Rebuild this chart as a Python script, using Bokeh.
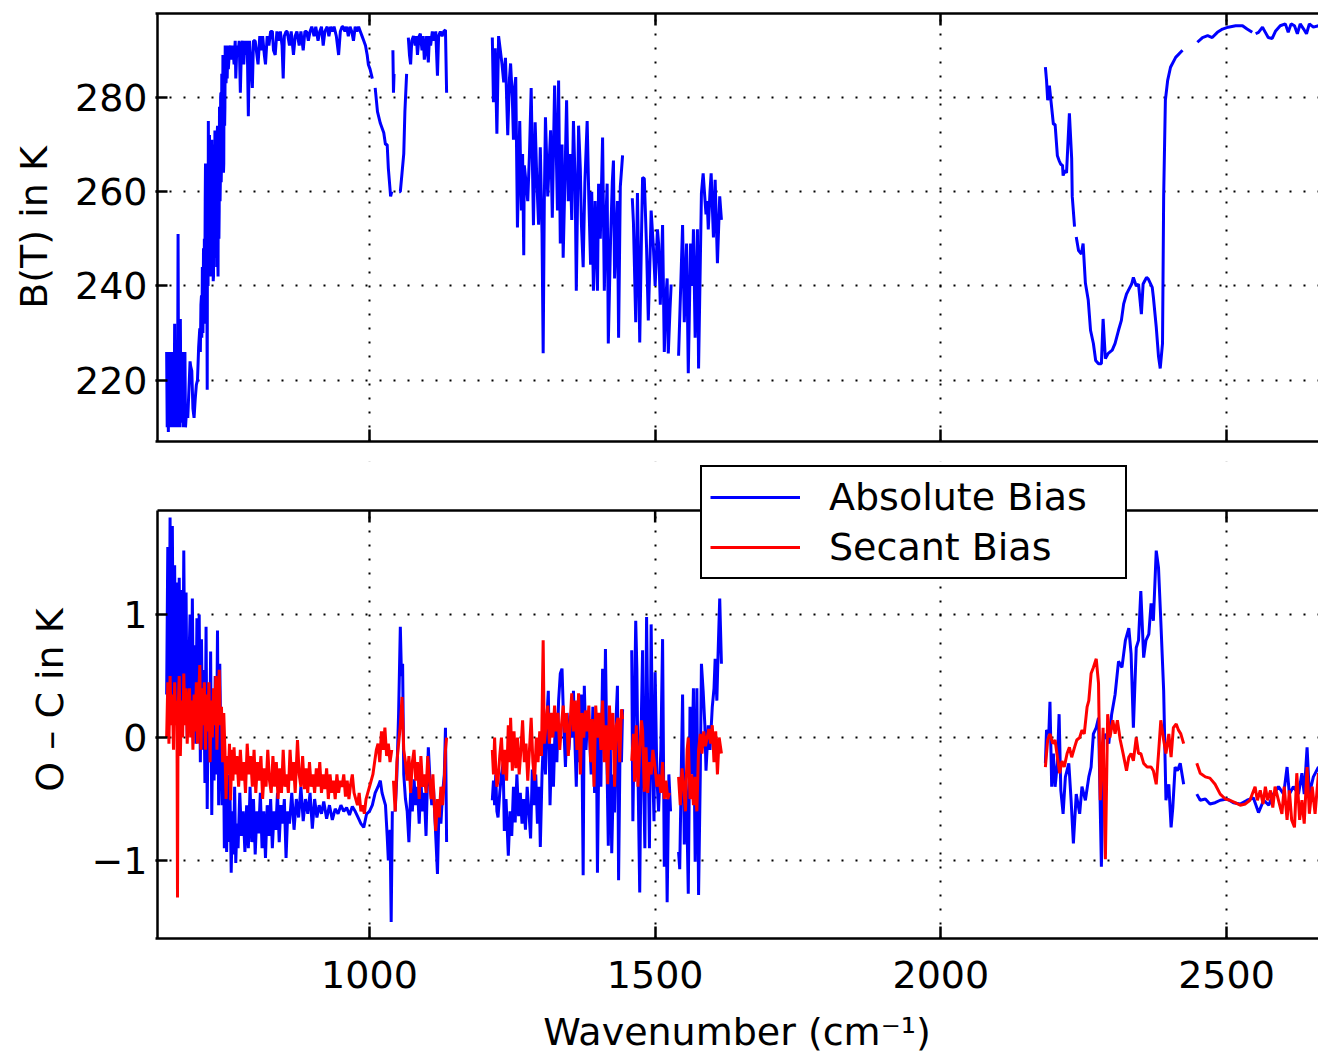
from bokeh.plotting import figure
from bokeh.models import Range1d, FixedTicker, LinearAxis, Legend, LegendItem, BoxAnnotation
from bokeh.layouts import column
from bokeh.embed import file_html
from bokeh.resources import INLINE

GAP = None  # marks a break in a spectrum

# ---------------- axes / ticks ----------------
X_LIMITS = (629, 2661)
X_TICKS = [1000, 1500, 2000, 2500]
BT_LIMITS = (207.0, 297.8)
BT_TICKS = [220, 240, 260, 280]
OC_LIMITS = (-1.634, 1.846)
OC_TICKS = [-1, 0, 1]
OC_TICK_LABELS = {-1: "\u22121", 0: "0", 1: "1"}
LEGEND_LABELS = ["Absolute Bias", "Secant Bias"]

# ---------------- top panel: brightness temperature B(T) in K (wavenumber, K) ----------------
bt_band1 = [
    (645, 226), (646, 210), (647, 225), (648, 209), (649, 226), (650, 211), (651, 224), (652, 210),
    (653, 226), (654, 212), (655, 225), (656, 210), (657, 226), (658, 211), (659, 232), (660, 210),
    (661, 226), (662, 212), (663, 224), (664, 210), (665, 251), (666, 212), (667, 226), (668, 210),
    (669, 233), (670, 212), (671, 226), (672, 211), (673, 225), (674, 210), (675, 226), (676, 212),
    (677, 226), (678, 210), (680, 214), (682, 212), (684, 218), (686, 224), (687, 223), (689, 222),
    (691, 214), (693, 212), (695, 216), (697, 219), (699, 220), (701, 227), (703, 231), (704, 226),
    (705, 236), (706, 238), (706.5, 229), (707, 233), (707.5, 244), (708, 241), (708.5, 230),
    (709, 236), (709.5, 248), (710, 240), (710.5, 232), (711, 250), (711.5, 238), (712, 245),
    (712.5, 258), (713, 266), (713.5, 236), (714, 240), (714.5, 262), (715, 253), (716, 218),
    (716.5, 258), (717, 262), (717.5, 240), (718, 275), (718.5, 250), (719, 245), (719.5, 270),
    (720, 272), (720.5, 246), (721, 243), (721.5, 266), (722, 268), (722.5, 242), (723, 247),
    (723.5, 270), (724, 271), (724.5, 243), (725, 244), (725.5, 268), (726, 265), (726.5, 241),
    (727, 242), (727.5, 266), (728, 270), (728.5, 246), (729, 255), (729.5, 273), (730, 272),
    (730.5, 246), (731, 250), (731.5, 270), (732, 268), (732.5, 244), (733, 248), (733.5, 272),
    (734, 274), (734.5, 246), (735, 242), (735.5, 268), (736, 270), (736.5, 250), (737, 256),
    (737.5, 278), (738, 276), (738.5, 258), (739, 262), (739.5, 280), (740, 281), (740.5, 262),
    (741, 266), (741.5, 285), (742, 284), (742.5, 268), (743, 272), (743.5, 289), (744, 288),
    (744.5, 264), (745, 266), (745.5, 286), (746, 284), (746.5, 274), (747, 278), (747.5, 291),
    (748, 290), (749, 283), (750, 289), (751, 284), (752, 291), (753, 286),
    (755, 290), (757, 291), (759, 288), (761, 291), (763, 287), (765, 292), (766, 284), (768, 291),
    (770, 289), (772, 292), (774, 281), (776, 291), (778, 292), (780, 287), (782, 292), (784, 289),
    (786, 292), (788, 276), (790, 292), (792, 288), (795, 282), (797, 292), (800, 292), (803, 289),
    (805, 287), (808, 293), (810, 290), (813, 293), (816, 289), (818, 287), (821, 293), (824, 291),
    (827, 294), (830, 294), (832, 290), (835, 289), (838, 294), (841, 292), (844, 294), (847, 291),
    (849, 284), (851, 293), (854, 294), (856, 294), (860, 291), (863, 294), (867, 289), (870, 293),
    (873, 294), (877, 291), (880, 294), (884, 290), (887, 294), (890, 294), (893, 292), (896, 294),
    (899, 295), (903, 293), (906, 295), (910, 292), (913, 294), (916, 295), (919, 291), (922, 294),
    (926, 295), (929, 293), (932, 295), (935, 294), (938, 295), (942, 293), (946, 289), (949, 294),
    (952, 295), (954, 295), (957, 294), (960, 295), (963, 293), (966, 295), (969, 294), (972, 292),
    (975, 295), (978, 294), (981, 295), (984, 294), (987, 293), (990, 292), (993, 291), (996, 289),
    (998, 287), (1001, 286), (1005, 284), GAP,
    (1010, 282), (1014, 277), (1019, 274.5), (1025, 272.5), (1028, 270), (1031, 270), (1033, 265),
    (1035, 262), (1037, 259), (1039, 260), GAP,
    (1041, 290), (1042, 281), (1043, 285), GAP,
    (1052, 260), (1054, 260), (1057, 264), (1060, 268), (1062, 277), (1065, 285), GAP,
    (1068, 292.7), (1070, 289), (1072, 287), (1074, 292), (1077, 293), (1080, 291), (1082, 293),
    (1084, 289), (1087, 293), (1089, 293.5), (1092, 290), (1094, 293), (1096, 288), (1098, 290),
    (1100, 293), (1103, 287.4), (1105, 293), (1107, 291), (1110, 294), (1113, 292), (1116, 294),
    (1119, 284.6), (1121, 293), (1124, 294), (1127, 293), (1130, 294), (1133, 294.3), (1135, 281),
]

bt_band2 = [
    (1215, 292.7), (1217, 279), (1220, 290.4), (1223, 272.3), (1226, 293), (1229, 290), (1232, 287),
    (1235, 283.2), (1238, 288.4), (1242, 272), (1245, 284), (1247, 287.2), (1250, 280), (1252, 271),
    (1254, 282), (1256, 284.3), (1259, 252.4), (1263, 275), (1266, 256), (1268, 268), (1270, 246.5),
    (1271, 265.6), (1274, 262), (1277, 258), (1280, 268), (1283, 282), (1287, 252.9), (1290, 274.7),
    (1293, 262), (1296, 253), (1299, 269.4), (1302, 251.2), (1304, 225.7), (1306, 258), (1308, 275.8),
    (1312, 259), (1317, 273), (1320, 254.5), (1324, 282.5), (1327, 268), (1329, 256), (1331, 283.6),
    (1334, 249), (1337, 270), (1339, 246), (1342, 262), (1345, 279.4), (1348, 258), (1351, 268),
    (1354, 254), (1357, 275), (1360, 262), (1362, 239), (1366, 274), (1369, 265), (1371, 253),
    (1374, 244), (1377, 262), (1381, 275), (1384, 258), (1387, 244.5), (1389, 260), (1392, 239),
    (1395, 258), (1399, 239), (1401, 261.7), (1404, 250), (1408, 271.5), (1411, 239), (1414, 255),
    (1416, 261.7), (1418, 227.8), (1422, 250), (1425, 262), (1427, 266.6), (1429, 241.6), (1432, 252),
    (1434, 258), (1436, 229), (1439, 261), (1443, 267.7), GAP,
    (1460, 258.6), (1462, 253.4), (1466, 232.3), (1469, 259.7), (1471, 245), (1473, 228), (1476, 250),
    (1478, 263), (1481, 262.8), (1485, 248), (1488, 232.7), (1491, 246), (1493, 256), (1497, 248),
    (1500, 240), (1504, 252), (1506, 249), (1509, 236), (1513, 252.9), (1516, 226), (1519, 238),
    (1521, 241.6), (1523, 225.7), (1526, 235), (1528, 240.3), GAP,
    (1541, 225.2), (1544, 237), (1548, 252.9), (1551, 232.3), (1555, 249), (1558, 221.5), (1562, 249),
    (1565, 240), (1567, 252), (1570, 229), (1574, 252), (1576, 222.5), (1581, 259.7), (1584, 263.9),
    (1589, 255.2), (1591, 258), (1593, 252), (1596, 260), (1598, 263.9), (1602, 250.3), (1605, 262.5),
    (1609, 244.8), (1613, 259), (1616, 254),
]

bt_band3 = [
    (2183, 286.4), (2185, 283.6), (2187, 279.4), (2190, 282.5), (2193, 279), (2197, 274.3),
    (2200, 274.3), (2204, 267.6), (2207, 266.6), (2210, 265.8), (2213, 265.6), (2214, 263.4),
    (2217, 264.5), (2220, 264), (2225, 276.6), (2229, 267), (2230, 259), (2234, 252.6), GAP,
    (2237, 250.4), (2241, 247.5), (2246, 246.8), (2249, 249), (2253, 240.6), (2258, 237),
    (2262, 230.6), (2267, 227.8), (2271, 224.2), (2276, 223.5), (2281, 223.5), (2284, 233),
    (2288, 224.6), (2293, 225.7), (2300, 226.4), (2305, 227.8), (2311, 230.6), (2316, 232.7),
    (2320, 236.2), (2325, 238.3), (2328, 239), (2334, 240.4), (2337, 241.8), (2342, 240),
    (2346, 240.4), (2351, 234), (2354, 240.4), (2360, 241.8), (2363, 241.5), (2370, 239.7),
    (2372, 237.6), (2377, 231.3), (2381, 225), (2384, 222.5), (2388, 227.8), (2390, 259),
    (2393, 279.4), (2397, 283.6), (2402, 286.4), (2411, 288.5), (2423, 290), GAP,
    (2449, 291.7), (2458, 292.7), (2467, 293.1), (2475, 292.7), (2484, 293.8), (2493, 294.5),
    (2503, 294.9), (2516, 295.2), (2528, 295.2), (2536, 294.5), (2545, 293.8), GAP,
    (2551, 293.5), (2556, 293.8), (2563, 294.9), (2568, 293.8), (2573, 292.7), (2580, 292.5),
    (2586, 294.1), (2594, 295.2), (2603, 295.6), (2608, 293.8), (2613, 295.6), (2619, 295.2),
    (2624, 293.5), (2629, 295.6), (2635, 294.5), (2640, 293.5), (2645, 295.6), (2652, 294.9),
    (2661, 295.2), (2665, 294.6),
]

# ---------------- bottom panel: O - C in K, absolute bias (blue) ----------------
abs_bias = [
    (645, 0.35), (647, 1.55), (649, 0.1), (651, 1.79), (653, 0.3), (655, 1.72), (657, 0.15), (659, 1.4),
    (661, 0.2), (663, 1.26), (665, 0.05), (667, 1.3), (669, 0.25), (671, 1.2), (673, 0.1), (675, 1.52),
    (677, 0.3), (679, 1.18), (681, 0.0), (684, 0.6), (686, 1.0), (688, 0.05), (690, 1.13), (692, 0.1),
    (694, 0.75), (696, -0.05), (698, 0.97), (700, 0.1), (702, 1.0), (704, -0.2), (706, 0.8), (708, -0.1),
    (710, 0.55), (712, -0.37), (714, 0.9), (716, -0.58), (718, 0.4), (720, -0.2), (722, 0.7), (724, -0.63),
    (726, 0.3), (728, -0.35), (730, 0.5), (732, -0.3), (734, 0.87), (736, -0.55), (738, 0.6), (740, -0.1),
    (742, -0.55), (744, 0.2), (746, -0.9), (748, -0.4), (750, -0.93), (752, -0.3), (754, -0.85),
    (756, -0.5), (758, -1.1), (760, -0.6), (762, -0.95), (764, -0.4), (766, -1.02), (768, -0.7),
    (770, -0.9), (773, -0.45), (776, -0.8), (779, -0.6), (782, -0.93), (785, -0.55), (788, -0.9),
    (791, -0.4), (794, -0.85), (797, -0.5), (800, -0.95), (803, -0.6), (806, -0.78), (809, -0.45),
    (812, -0.9), (815, -0.6), (818, -0.98), (821, -0.55), (824, -0.8), (827, -0.5), (830, -0.9),
    (833, -0.6), (836, -0.75), (839, -0.45), (842, -0.85), (845, -0.55), (848, -0.7), (851, -0.5),
    (854, -0.98), (857, -0.6), (860, -0.7), (864, -0.45), (868, -0.75), (872, -0.5), (876, -0.65),
    (880, -0.4), (884, -0.68), (888, -0.5), (892, -0.62), (896, -0.45), (900, -0.74), (904, -0.5),
    (908, -0.65), (912, -0.55), (916, -0.62), (920, -0.52), (925, -0.66), (930, -0.55), (935, -0.67),
    (940, -0.58), (945, -0.62), (950, -0.55), (955, -0.6), (960, -0.57), (965, -0.63), (970, -0.56),
    (975, -0.6), (980, -0.65), (985, -0.7), (990, -0.73), (995, -0.62), (1000, -0.6), (1005, -0.55),
    (1010, -0.45), (1015, -0.4), (1019, -0.35), (1022, -0.45), (1025, -0.5), (1028, -0.55),
    (1031, -0.8), (1033, -1.0), (1036, -0.75), (1038, -1.5), (1040, -0.6), GAP,
    (1045, -0.6), (1048, -0.3), (1051, 0.2), (1054, 0.9), (1056, 0.5), (1058, 0.6), (1060, -0.3),
    (1063, -0.5), (1066, -0.6), (1069, -0.85), (1072, -0.45), (1075, -0.6), (1078, -0.34),
    (1081, -0.55), (1084, -0.4), (1087, -0.7), (1090, -0.35), (1093, -0.6), (1096, -0.45),
    (1099, -0.8), (1103, -0.08), (1106, -0.35), (1109, -0.55), (1112, -0.4), (1115, -0.7),
    (1119, -1.11), (1122, -0.5), (1125, -0.7), (1128, -0.45), (1131, -0.3), (1133, 0.08), (1135, -0.85),
    GAP,
    (1215, -0.51), (1217, -0.35), (1219, -0.55), (1221, -0.3), (1223, -0.6), (1225, -0.65),
    (1228, -0.45), (1231, -0.3), (1234, -0.21), (1236, -0.76), (1239, -0.5), (1243, -0.96),
    (1246, -0.6), (1249, -0.8), (1252, -0.4), (1255, -0.69), (1258, -0.3), (1261, -0.64),
    (1264, -0.45), (1267, -0.7), (1270, -0.5), (1273, -0.75), (1276, -0.4), (1279, -0.6),
    (1282, -0.82), (1285, -0.26), (1288, -0.55), (1291, -0.3), (1294, -0.7), (1297, -0.4),
    (1299, -0.89), (1302, -0.3), (1305, 0.06), (1308, -0.3), (1311, 0.2), (1313, 0.38), (1316, -0.55),
    (1319, -0.05), (1322, -0.4), (1325, 0.1), (1328, -0.2), (1331, 0.3), (1334, 0.52), (1337, 0.56),
    (1340, 0.1), (1343, -0.24), (1346, 0.2), (1349, -0.1), (1352, 0.1), (1355, 0.0), (1357, 0.38),
    (1360, -0.1), (1362, -0.4), (1365, 0.3), (1368, -0.2), (1371, 0.35), (1374, -1.12), (1376, 0.42),
    (1379, -0.1), (1382, 0.2), (1385, 0.05), (1388, -0.3), (1391, 0.25), (1394, -0.45), (1397, 0.1),
    (1399, -1.1), (1402, 0.1), (1405, -0.4), (1408, 0.56), (1411, -0.1), (1413, 0.72), (1416, -0.3),
    (1418, -0.88), (1421, 0.1), (1424, -0.94), (1427, -0.3), (1429, -0.61), (1432, 0.2), (1434, 0.42),
    (1436, -1.16), (1439, 0.1), (1441, -0.2), (1443, 0.23), GAP,
    (1459, 0.71), (1461, -0.68), (1464, 0.3), (1466, 0.95), (1468, 0.56), (1470, -0.3), (1473, -1.26),
    (1476, 0.2), (1478, 0.71), (1480, -0.4), (1482, -0.9), (1485, 0.98), (1488, -0.2), (1490, -0.9),
    (1493, 0.92), (1496, -0.3), (1498, -0.68), (1500, 0.53), (1503, -0.32), (1506, -0.6), (1510, -0.1),
    (1513, 0.8), (1516, -1.05), (1519, -0.5), (1521, -1.34), (1524, -0.3), (1527, -0.6), GAP,
    (1541, -0.93), (1543, -1.07), (1546, -0.2), (1548, 0.35), (1551, -0.87), (1553, -0.3),
    (1555, -0.5), (1558, -1.27), (1561, 0.25), (1564, -0.3), (1567, 0.4), (1570, -1.01), (1573, 0.4),
    (1576, -1.28), (1579, -0.3), (1581, 0.6), (1584, 0.38), (1587, 0.1), (1589, -0.27), (1593, 0.1),
    (1596, -0.1), (1600, 0.25), (1603, 0.4), (1605, 0.64), (1608, 0.3), (1610, 0.66), (1613, 1.13),
    (1616, 0.6), GAP,
    (2183, -0.21), (2185, 0.06), (2189, 0.03), (2191, 0.29), (2194, -0.4), (2197, -0.13), (2200, -0.4),
    (2204, -0.21), (2207, 0.19), (2210, -0.43), (2214, -0.62), (2218, -0.32), (2224, -0.21),
    (2228, -0.51), (2232, -0.86), (2237, -0.46), (2243, -0.62), (2247, -0.4), (2253, -0.51),
    (2259, -0.32), (2263, -0.24), (2267, 0.03), (2272, 0.08), (2276, 0.16), (2281, -1.05),
    (2285, -0.02), (2289, 0.03), (2294, -0.05), (2299, 0.19), (2305, 0.35), (2311, 0.62), (2317, 0.57),
    (2323, 0.79), (2329, 0.89), (2333, 0.68), (2337, 0.08), (2342, 0.73), (2346, 0.79), (2350, 1.19),
    (2355, 0.65), (2359, 0.79), (2364, 0.84), (2368, 1.09), (2372, 0.95), (2377, 1.52), (2381, 1.38),
    (2385, 0.95), (2390, 0.38), (2394, -0.51), (2399, -0.38), (2403, -0.73), (2406, -0.57),
    (2410, -0.24), (2414, -0.27), (2419, -0.21), (2425, -0.38), GAP,
    (2448, -0.46), (2454, -0.51), (2463, -0.5), (2471, -0.54), (2480, -0.53), (2489, -0.51),
    (2501, -0.5), (2512, -0.53), (2524, -0.54), (2536, -0.51), (2547, -0.49), (2556, -0.61),
    (2565, -0.51), (2574, -0.55), (2582, -0.46), (2591, -0.4), (2600, -0.46), (2606, -0.24),
    (2610, -0.46), (2617, -0.4), (2626, -0.46), (2632, -0.29), (2636, -0.46), (2641, -0.08),
    (2645, -0.46), (2652, -0.32), (2661, -0.24), (2665, -0.3),
]

# ---------------- bottom panel: O - C in K, secant bias (red) ----------------
sec_bias = [
    (645, 0.0), (647, 0.45), (649, -0.05), (651, 0.5), (653, 0.1), (655, 0.35), (657, -0.1), (659, 0.45),
    (661, 0.1), (663, 0.3), (664, -1.3), (665, 0.2), (667, 0.5), (669, -0.15), (671, 0.3), (673, 0.0),
    (675, 0.52), (677, 0.1), (679, 0.4), (681, -0.05), (683, 0.25), (685, 0.4), (687, 0.0), (689, 0.3),
    (691, -0.1), (693, 0.35), (695, 0.05), (697, 0.45), (699, -0.05), (701, 0.3), (703, 0.59),
    (705, -0.1), (707, 0.4), (709, 0.1), (711, 0.45), (713, -0.1), (715, 0.35), (717, 0.05), (719, 0.45),
    (721, -0.2), (723, 0.3), (725, 0.0), (727, 0.4), (729, 0.1), (731, 0.5), (733, -0.1), (735, 0.3),
    (737, 0.55), (739, 0.1), (741, 0.25), (743, -0.2), (745, 0.2), (747, -0.1), (749, -0.5),
    (751, -0.15), (753, -0.3), (755, -0.05), (757, -0.51), (759, -0.1), (761, -0.35), (763, -0.08),
    (765, -0.3), (768, -0.15), (771, -0.4), (774, -0.1), (777, -0.35), (780, -0.2), (783, -0.45),
    (786, -0.05), (789, -0.3), (792, -0.15), (795, -0.4), (798, -0.1), (801, -0.45), (804, -0.2),
    (807, -0.35), (810, -0.15), (813, -0.5), (816, -0.25), (819, -0.4), (822, -0.1), (825, -0.35),
    (828, -0.45), (831, -0.15), (834, -0.4), (837, -0.2), (840, -0.5), (843, -0.25), (846, -0.45),
    (849, -0.1), (852, -0.4), (855, -0.3), (858, -0.45), (861, -0.1), (864, -0.35), (867, -0.2),
    (870, -0.45), (874, -0.02), (877, -0.3), (880, -0.4), (883, -0.15), (886, -0.42), (889, -0.25),
    (892, -0.45), (895, -0.2), (898, -0.4), (901, -0.3), (904, -0.45), (907, -0.25), (910, -0.4),
    (913, -0.2), (916, -0.45), (919, -0.3), (922, -0.42), (925, -0.25), (928, -0.5), (931, -0.3),
    (934, -0.45), (937, -0.35), (940, -0.5), (943, -0.3), (946, -0.45), (949, -0.35), (952, -0.4),
    (955, -0.3), (958, -0.48), (961, -0.35), (964, -0.5), (967, -0.38), (970, -0.3), (973, -0.45),
    (976, -0.5), (979, -0.55), (982, -0.45), (985, -0.6), (988, -0.55), (991, -0.62), (994, -0.5),
    (997, -0.45), (1000, -0.4), (1003, -0.35), (1006, -0.3), (1009, -0.2), (1012, -0.1), (1015, -0.05),
    (1018, -0.2), (1021, 0.05), (1024, -0.1), (1027, 0.08), (1030, -0.15), (1033, -0.05), (1036, -0.2),
    (1039, -0.1), GAP,
    (1042, -0.35), (1045, -0.6), (1048, -0.2), (1051, -0.05), (1054, 0.1), (1057, 0.33), (1060, -0.1),
    (1063, -0.2), (1066, -0.35), (1069, -0.15), (1072, -0.45), (1075, -0.2), (1078, -0.1),
    (1081, -0.35), (1084, -0.2), (1087, -0.5), (1090, -0.15), (1093, -0.4), (1096, -0.3), (1099, -0.45),
    (1102, -0.15), (1105, -0.35), (1108, -0.5), (1111, -0.3), (1114, -0.6), (1116, -0.76), (1119, -0.5),
    (1122, -0.65), (1125, -0.4), (1128, -0.55), (1131, -0.35), (1133, -0.1), (1135, 0.0), GAP,
    (1215, -0.1), (1217, -0.3), (1219, 0.0), (1221, -0.25), (1223, -0.4), (1225, -0.35), (1228, -0.15),
    (1231, 0.0), (1234, -0.3), (1237, -0.1), (1240, -0.35), (1243, 0.1), (1246, -0.2), (1247, 0.16),
    (1250, -0.27), (1253, 0.05), (1256, -0.25), (1259, 0.0), (1262, -0.3), (1265, -0.1), (1268, 0.14),
    (1271, -0.2), (1274, -0.05), (1277, -0.35), (1280, -0.1), (1283, 0.16), (1286, -0.2), (1289, -0.35),
    (1292, 0.0), (1295, -0.2), (1298, 0.05), (1301, -0.15), (1304, 0.79), (1306, -0.05), (1309, 0.1),
    (1312, 0.26), (1315, -0.05), (1318, 0.2), (1321, 0.0), (1324, 0.26), (1327, 0.05), (1330, 0.2),
    (1333, -0.1), (1336, 0.1), (1339, 0.26), (1342, 0.04), (1345, 0.2), (1348, -0.15), (1351, 0.1),
    (1354, 0.36), (1357, 0.05), (1360, 0.3), (1363, -0.1), (1366, 0.36), (1369, -0.3), (1372, 0.2),
    (1375, 0.0), (1378, 0.22), (1381, 0.05), (1384, 0.26), (1387, -0.2), (1390, 0.15), (1393, -0.4),
    (1396, 0.26), (1399, 0.0), (1402, 0.2), (1405, -0.1), (1408, 0.3), (1411, -0.2), (1414, 0.1),
    (1417, -0.38), (1420, 0.26), (1423, -0.1), (1426, 0.2), (1429, -0.4), (1432, 0.1), (1435, 0.16),
    (1438, -0.2), (1441, 0.23), (1443, 0.15), GAP,
    (1459, -0.19), (1462, 0.03), (1464, -0.36), (1467, 0.1), (1470, -0.4), (1473, -0.1), (1476, 0.14),
    (1478, 0.06), (1481, -0.44), (1484, -0.08), (1487, -0.45), (1490, -0.2), (1493, -0.3), (1496, -0.1),
    (1500, -0.25), (1503, -0.4), (1506, -0.3), (1510, -0.45), (1513, -0.2), (1516, -0.5), (1519, -0.35),
    (1522, -0.5), (1525, -0.45), GAP,
    (1541, -0.32), (1544, -0.55), (1547, -0.25), (1550, -0.4), (1553, -0.6), (1556, -0.1), (1558, 0.0),
    (1561, -0.5), (1564, -0.3), (1567, -0.55), (1570, -0.32), (1573, -0.6), (1576, -0.1), (1579, 0.03),
    (1582, -0.13), (1585, 0.05), (1588, -0.07), (1591, 0.0), (1594, 0.07), (1597, -0.05), (1600, 0.1),
    (1603, -0.2), (1606, 0.05), (1609, -0.3), (1612, 0.0), (1616, -0.13), GAP,
    (2183, -0.24), (2187, -0.02), (2191, 0.03), (2196, -0.05), (2200, -0.02), (2204, -0.16),
    (2208, -0.29), (2212, -0.19), (2216, -0.24), (2221, -0.13), (2225, -0.08), (2229, -0.16),
    (2234, -0.08), (2238, -0.02), (2243, 0.0), (2247, 0.06), (2251, 0.03), (2256, 0.25), (2259, 0.3),
    (2263, 0.52), (2267, 0.57), (2272, 0.64), (2276, 0.44), (2279, -0.51), (2284, 0.08), (2288, -0.99),
    (2292, 0.19), (2296, 0.0), (2301, 0.14), (2305, 0.03), (2309, 0.14), (2314, -0.02), (2319, -0.13),
    (2325, -0.27), (2329, -0.16), (2333, -0.13), (2337, -0.19), (2342, 0.0), (2346, -0.13),
    (2350, -0.13), (2355, -0.21), (2361, -0.24), (2368, -0.24), (2372, -0.27), (2377, -0.38),
    (2381, -0.13), (2385, 0.14), (2390, -0.02), (2394, -0.13), (2399, 0.03), (2403, -0.16), (2407, 0.08),
    (2412, 0.11), (2416, 0.06), (2420, 0.03), (2425, -0.05), GAP,
    (2448, -0.21), (2454, -0.29), (2463, -0.32), (2471, -0.33), (2480, -0.38), (2489, -0.46),
    (2498, -0.5), (2506, -0.51), (2515, -0.53), (2524, -0.55), (2533, -0.54), (2541, -0.51),
    (2550, -0.4), (2554, -0.51), (2559, -0.43), (2564, -0.54), (2568, -0.4), (2572, -0.51),
    (2577, -0.43), (2581, -0.57), (2585, -0.4), (2591, -0.51), (2597, -0.62), (2601, -0.4),
    (2606, -0.67), (2610, -0.43), (2614, -0.67), (2619, -0.73), (2623, -0.29), (2628, -0.67),
    (2632, -0.51), (2636, -0.7), (2641, -0.24), (2645, -0.62), (2650, -0.4), (2655, -0.62),
    (2661, -0.29), (2665, -0.45),
]

FONT = "DejaVu Sans"
FS = "38px"
BLUE = "#0000FF"
RED = "#FF0000"
LW = 3
AXIS_W = 2.5
TICK_LEN = 12

# ---------------- page geometry (pixels) ----------------
W = 1318
LEFT = 157                     # x pixel of the drawn left box edge
SHIFT = 2                      # frames start 2 px further left so the drawn left edge is not clipped
TOP_H, TOP_T, TOP_B = 453, 13, 12
BOT_H, BOT_B = 606, 121
BOT_FRAME_TOP = 510            # where the lower panel's box starts
BOT_CANVAS_T = 8               # lower frame starts higher, so the legend can straddle the box edge
PX_PER_X = (W - LEFT) / (X_LIMITS[1] - X_LIMITS[0])
X_VIEW = (X_LIMITS[0] - SHIFT / PX_PER_X, X_LIMITS[1])


def unzip(points):
    xs, ys = [], []
    for pt in points:
        if pt is GAP:
            xs.append(float("nan"))
            ys.append(float("nan"))
        else:
            xs.append(pt[0])
            ys.append(pt[1])
    return xs, ys


def style_axis(ax, ticks, show_labels, overrides=None, standoff=10):
    ax.ticker = FixedTicker(ticks=ticks)
    ax.axis_line_color = "black"
    ax.axis_line_width = AXIS_W
    ax.major_tick_in = TICK_LEN
    ax.major_tick_out = 0
    ax.major_tick_line_color = "black"
    ax.major_tick_line_width = AXIS_W
    ax.minor_tick_line_color = None
    ax.major_label_text_font = FONT
    ax.major_label_text_color = "black"
    ax.major_label_standoff = standoff
    ax.axis_label_text_font = FONT
    ax.axis_label_text_font_size = FS
    ax.axis_label_text_font_style = "normal"
    ax.axis_label_text_color = "black"
    ax.axis_label_standoff = 16
    if show_labels:
        ax.major_label_text_font_size = FS
        if overrides:
            ax.major_label_overrides = overrides
    else:
        ax.major_label_text_font_size = "0px"
        ax.major_label_overrides = {t: "" for t in ticks}


def dotted_grid(p, yticks):
    p.xgrid.ticker = FixedTicker(ticks=X_TICKS)
    p.ygrid.ticker = FixedTicker(ticks=yticks)
    for g in (p.xgrid[0], p.ygrid[0]):
        g.grid_line_color = "black"
        g.grid_line_width = 2
        g.grid_line_dash = "2 12"
        g.grid_line_alpha = 1.0


def left_edge(p, y0, y1):
    p.segment(x0=[X_LIMITS[0]], y0=[y0], x1=[X_LIMITS[0]], y1=[y1],
              line_color="black", line_width=AXIS_W)


# ---------------- top panel ----------------
p1 = figure(width=W, height=TOP_H,
            x_range=Range1d(*X_VIEW), y_range=Range1d(*BT_LIMITS),
            output_backend="svg", toolbar_location=None,
            min_border_left=LEFT - SHIFT, min_border_right=0,
            min_border_top=TOP_T, min_border_bottom=TOP_B,
            background_fill_color="white", border_fill_color="white",
            outline_line_color=None)
style_axis(p1.below[0], X_TICKS, False)
style_axis(p1.left[0], BT_TICKS, True, standoff=10 - SHIFT)
p1.left[0].axis_label = "B(T) in K"
p1.left[0].axis_line_color = None
top_axis = LinearAxis()
style_axis(top_axis, X_TICKS, False)
p1.add_layout(top_axis, "above")
dotted_grid(p1, BT_TICKS)
for band in (bt_band1, bt_band2, bt_band3):
    xs, ys = unzip(band)
    p1.line(xs, ys, line_color=BLUE, line_width=LW)
left_edge(p1, BT_LIMITS[0] - 5, BT_LIMITS[1] + 5)

# ---------------- bottom panel ----------------
frame_top_px = TOP_H + BOT_CANVAS_T
frame_bot_px = TOP_H + BOT_H - BOT_B
px_per_y = (frame_bot_px - BOT_FRAME_TOP) / (OC_LIMITS[1] - OC_LIMITS[0])
oc_view_top = OC_LIMITS[1] + (BOT_FRAME_TOP - frame_top_px) / px_per_y

p2 = figure(width=W, height=BOT_H,
            x_range=Range1d(*X_VIEW), y_range=Range1d(OC_LIMITS[0], oc_view_top),
            output_backend="svg", toolbar_location=None,
            min_border_left=LEFT - SHIFT, min_border_right=0,
            min_border_top=BOT_CANVAS_T, min_border_bottom=BOT_B,
            background_fill_color="white", border_fill_color="white",
            outline_line_color=None)
style_axis(p2.below[0], X_TICKS, True, standoff=22)
p2.below[0].axis_label = "Wavenumber (cm\u207b\u00b9)"
p2.below[0].axis_label_standoff = 19
style_axis(p2.left[0], OC_TICKS, True, OC_TICK_LABELS, standoff=10 - SHIFT)
p2.left[0].axis_label = "O \u2013 C in K"
p2.left[0].axis_line_color = None
dotted_grid(p2, OC_TICKS)

# white cover above the lower box (keeps the grid inside the box)
p2.add_layout(BoxAnnotation(bottom=OC_LIMITS[1], top=oc_view_top + 1,
                            left=X_VIEW[0] - 10, right=X_LIMITS[1] + 10,
                            fill_color="white", fill_alpha=1.0, line_color=None, level="underlay"))

ax_, ay_ = unzip(abs_bias)
sx_, sy_ = unzip(sec_bias)
r_abs = p2.line(ax_, ay_, line_color=BLUE, line_width=LW)
r_sec = p2.line(sx_, sy_, line_color=RED, line_width=LW)

# box of the lower panel: top and left edges, with inward ticks on top
p2.segment(x0=[X_LIMITS[0]], y0=[OC_LIMITS[1]], x1=[X_LIMITS[1] + 10], y1=[OC_LIMITS[1]],
           line_color="black", line_width=AXIS_W)
left_edge(p2, OC_LIMITS[0] - 1, OC_LIMITS[1])
tick_dy = TICK_LEN / px_per_y
p2.segment(x0=X_TICKS, y0=[OC_LIMITS[1]] * len(X_TICKS), x1=X_TICKS,
           y1=[OC_LIMITS[1] - tick_dy] * len(X_TICKS), line_color="black", line_width=AXIS_W)

legend = Legend(
    items=[LegendItem(label=LEGEND_LABELS[0], renderers=[r_abs]),
           LegendItem(label=LEGEND_LABELS[1], renderers=[r_sec])],
    location=(700 - (LEFT - SHIFT), frame_bot_px - 579), orientation="vertical",
    label_text_font=FONT, label_text_font_size=FS, label_text_color="black",
    glyph_width=90, glyph_height=20, label_standoff=29, label_width=288, label_height=20,
    padding=8, spacing=6, margin=0,
    border_line_color="black", border_line_width=2, border_line_alpha=1.0,
    background_fill_color="white", background_fill_alpha=1.0,
)
p2.add_layout(legend)

layout = column(p1, p2, spacing=0)
open("out.html", "w").write(file_html(layout, INLINE))
